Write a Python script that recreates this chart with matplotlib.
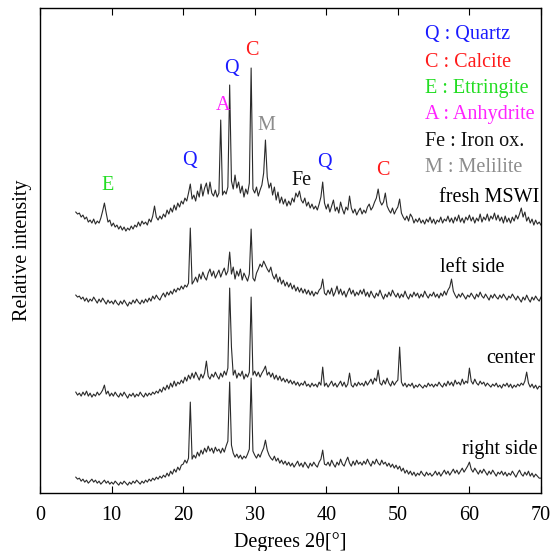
import numpy as np
import matplotlib
matplotlib.use('Agg')
import matplotlib.pyplot as plt

plt.rcParams['font.family'] = ['Liberation Serif', 'DejaVu Serif']

# 2theta grid, 5..70 deg, step 0.25
two_theta = np.arange(5, 70.001, 0.25)

# intensities (arbitrary units, traces already stacked)
fresh_mswi = [
    281, 279, 280, 276, 278, 274, 276, 271, 273, 270, 274, 269, 272, 270, 275, 282, 290, 280, 271, 273,
    267, 270, 266, 268, 264, 267, 263, 266, 262, 265, 263, 267, 264, 268, 266, 271, 267, 272, 269, 271,
    268, 274, 271, 277, 287, 276, 273, 277, 274, 279, 276, 283, 279, 285, 281, 288, 283, 290, 286, 292,
    289, 295, 292, 300, 309, 294, 298, 292, 302, 296, 309, 297, 305, 310, 299, 311, 300, 297, 303, 296,
    300, 373, 298, 302, 299, 306, 408, 312, 304, 318, 305, 311, 300, 307, 296, 304, 299, 310, 425, 304,
    300, 306, 297, 303, 308, 320, 353, 316, 305, 310, 298, 306, 293, 301, 290, 296, 289, 294, 287, 292,
    288, 295, 291, 300, 296, 302, 293, 290, 295, 287, 291, 285, 289, 284, 287, 283, 289, 296, 311, 290,
    284, 289, 281, 287, 293, 282, 286, 280, 291, 284, 279, 286, 283, 297, 285, 280, 284, 278, 282, 285,
    279, 283, 280, 286, 289, 283, 286, 291, 295, 304, 292, 288, 291, 300, 287, 283, 280, 285, 279, 283,
    286, 294, 280, 276, 273, 277, 272, 279, 276, 270, 274, 271, 275, 270, 273, 269, 274, 271, 276, 270,
    274, 269, 273, 271, 276, 270, 274, 272, 277, 271, 275, 270, 276, 272, 278, 271, 275, 270, 276, 273,
    278, 272, 276, 270, 275, 272, 279, 271, 276, 273, 279, 272, 277, 274, 280, 273, 278, 272, 276, 270,
    277, 271, 275, 270, 276, 272, 278, 274, 279, 285, 276, 281, 272, 276, 270, 274, 268, 273, 269, 271,
    268,
]
left_side = [
    198, 196, 197, 194, 196, 192, 195, 191, 194, 192, 196, 193, 190, 194, 191, 195, 192, 189, 193, 190,
    192, 189, 193, 190, 188, 192, 189, 193, 190, 187, 191, 189, 193, 190, 194, 191, 189, 193, 190, 194,
    191, 195, 192, 197, 194, 198, 195, 193, 197, 200, 196, 201, 198, 202, 199, 204, 201, 205, 203, 207,
    204, 208, 206, 210, 265, 209, 212, 216, 211, 219, 214, 221, 216, 213, 220, 224, 217, 222, 215, 219,
    223, 216, 221, 225, 218, 222, 241, 219, 226, 214, 222, 217, 224, 213, 220, 216, 212, 219, 264, 215,
    212, 220, 224, 229, 226, 232, 228, 224, 221, 226, 218, 214, 219, 211, 216, 209, 213, 207, 211, 206,
    210, 204, 208, 202, 206, 201, 205, 200, 204, 199, 203, 198, 202, 197, 201, 199, 203, 205, 214, 200,
    198, 203, 199, 205, 197, 201, 207, 199, 204, 198, 202, 196, 201, 205, 199, 203, 197, 201, 198, 203,
    199, 204, 197, 201, 196, 202, 198, 195, 200, 197, 203, 198, 194, 199, 196, 201, 197, 203, 199, 196,
    200, 195, 199, 196, 202, 197, 194, 199, 196, 201, 197, 200, 195, 199, 196, 202, 198, 195, 199, 197,
    201, 196, 199, 195, 200, 197, 202, 198, 203, 206, 214, 202, 198, 195, 199, 196, 200, 197, 194, 198,
    196, 200, 197, 194, 199, 196, 201, 197, 195, 199, 196, 193, 198, 195, 199, 196, 194, 198, 195, 199,
    196, 193, 197, 195, 199, 196, 193, 197, 194, 191, 196, 193, 198, 194, 191, 196, 193, 197, 194, 192,
    196,
]
center = [
    101, 98, 100, 97, 101, 98, 102, 97, 100, 96, 99, 97, 101, 98, 100, 103, 108, 99, 102, 97,
    100, 97, 101, 98, 96, 100, 97, 101, 98, 95, 99, 97, 100, 96, 99, 97, 101, 98, 96, 100,
    97, 100, 98, 101, 99, 102, 100, 104, 101, 106, 103, 108, 104, 110, 106, 112, 107, 111, 109, 113,
    110, 116, 112, 118, 114, 120, 115, 121, 117, 113, 119, 115, 120, 132, 117, 114, 119, 116, 121, 117,
    114, 120, 116, 122, 118, 125, 205, 146, 118, 123, 115, 120, 117, 122, 114, 119, 116, 121, 196, 118,
    122, 117, 121, 116, 120, 123, 127, 118, 121, 116, 120, 114, 118, 113, 117, 112, 115, 111, 114, 110,
    113, 109, 112, 108, 111, 107, 110, 108, 112, 107, 109, 106, 110, 107, 109, 106, 111, 108, 126, 107,
    110, 106, 109, 112, 107, 110, 106, 109, 112, 107, 111, 106, 109, 120, 108, 106, 110, 107, 111, 108,
    110, 107, 112, 108, 111, 114, 109, 115, 112, 123, 110, 108, 113, 109, 115, 110, 107, 112, 108, 111,
    113, 146, 111, 107, 110, 106, 109, 107, 110, 105, 108, 106, 109, 107, 105, 108, 106, 110, 107, 109,
    106, 109, 107, 111, 108, 106, 110, 107, 112, 108, 111, 107, 113, 109, 111, 108, 114, 109, 112, 110,
    125, 112, 109, 114, 110, 108, 112, 109, 111, 107, 110, 108, 106, 109, 107, 110, 106, 108, 105, 109,
    107, 110, 106, 109, 105, 108, 106, 109, 107, 110, 108, 112, 121, 110, 106, 109, 105, 108, 104, 107,
    106,
]
right_side = [
    16, 14, 15, 12, 14, 11, 13, 10, 12, 14, 11, 13, 10, 12, 9, 11, 13, 10, 12, 9,
    11, 9, 12, 10, 8, 11, 9, 12, 10, 8, 11, 9, 12, 10, 13, 11, 9, 12, 10, 13,
    11, 14, 12, 15, 13, 16, 14, 17, 15, 18, 16, 20, 17, 22, 19, 24, 21, 26, 23, 28,
    29, 33, 30, 35, 91, 34, 38, 35, 41, 37, 43, 39, 45, 41, 47, 42, 45, 40, 46, 42,
    44, 40, 45, 41, 47, 52, 111, 48, 40, 36, 39, 35, 38, 34, 37, 35, 39, 44, 115, 42,
    38, 35, 39, 36, 41, 45, 53, 43, 38, 35, 33, 37, 32, 35, 30, 33, 29, 32, 28, 31,
    27, 30, 26, 29, 32, 27, 30, 26, 31, 28, 25, 30, 27, 31, 28, 26, 31, 34, 43, 29,
    28, 31, 27, 33, 29, 26, 31, 28, 34, 29, 27, 32, 36, 30, 27, 32, 28, 33, 29, 31,
    28, 32, 29, 34, 30, 27, 32, 29, 34, 30, 28, 33, 29, 31, 27, 30, 26, 29, 25, 28,
    24, 27, 22, 25, 20, 23, 19, 22, 18, 21, 17, 20, 18, 22, 19, 17, 21, 18, 20, 17,
    19, 22, 18, 21, 17, 20, 23, 19, 22, 18, 21, 24, 20, 23, 19, 22, 25, 21, 24, 27,
    31, 24, 21, 25, 22, 19, 23, 20, 24, 21, 18, 22, 19, 23, 20, 17, 21, 19, 22, 18,
    21, 17, 20, 18, 22, 19, 16, 20, 23, 19, 17, 21, 18, 22, 17, 20, 16, 19, 17, 15,
    15,
]

trace_names = ['fresh MSWI', 'left side', 'center', 'right side']
trace_label_pos = [(69.7, 296), (64.9, 226), (69.2, 135), (69.5, 44)]

# phase markers on fresh MSWI trace
peak_tags = ['E', 'Q', 'A', 'Q', 'C', 'M', 'Fe', 'Q', 'C']
peak_x = [9.4, 20.9, 25.6, 26.8, 29.6, 31.6, 36.6, 39.7, 47.9]
peak_y = [308, 333, 388, 425, 443, 368, 313, 331, 323]

legend_lines = ['Q : Quartz', 'C : Calcite', 'E : Ettringite',
                'A : Anhydrite', 'Fe : Iron ox.', 'M : Melilite']
phase_colors = {'Q': '#1a1aff', 'C': '#ff1a1a', 'E': '#22dd22',
                'A': '#ff22ff', 'Fe': '#111111', 'M': '#8c8c8c'}
legend_keys = ['Q', 'C', 'E', 'A', 'Fe', 'M']
legend_y = [458, 431, 405, 379, 352, 326]

fs = 14.5

fig = plt.figure(figsize=(5.58, 5.51), dpi=100)
ax = fig.add_axes([0.0717, 0.105, 0.8978, 0.8805])

for ys in [fresh_mswi, left_side, center, right_side]:
    ax.plot(two_theta, ys, color='#2a2a2a', lw=0.8)

for name, (tx, ty) in zip(trace_names, trace_label_pos):
    ax.text(tx, ty, name, ha='right', va='center', fontsize=fs)

for tag, px, py in zip(peak_tags, peak_x, peak_y):
    ax.text(px, py, tag, ha='center', va='center', fontsize=fs, color=phase_colors[tag])

for key, line, ly in zip(legend_keys, legend_lines, legend_y):
    ax.text(53.8, ly, line, ha='left', va='center', fontsize=fs, color=phase_colors[key])

ax.set_xlim(0, 70)
ax.set_ylim(0, 485)
ax.set_xticks(range(0, 71, 10))
ax.set_yticks([])
ax.tick_params(axis='x', direction='in', top=True, length=5, labelsize=fs, pad=9)
for sp in ax.spines.values():
    sp.set_linewidth(1.0)
ax.set_xlabel('Degrees 2θ[°]', fontsize=fs, labelpad=5)
ax.set_ylabel('Relative intensity', fontsize=fs, labelpad=6)

fig.savefig('out.png', dpi=100, facecolor='white')
